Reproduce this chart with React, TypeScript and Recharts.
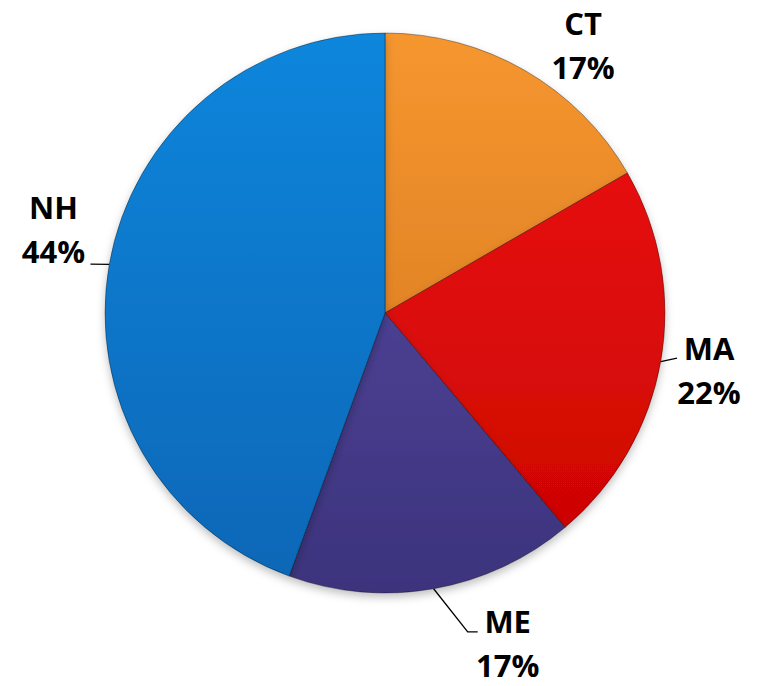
import { PieChart, Pie, Cell } from "recharts";

// ─── Data ─────────────────────────────────────────────────────────────────────

const states = ["CT", "MA", "ME", "NH"];
const counts = [6, 8, 6, 16];

const data = states.map((name, i) => ({ name, value: counts[i] }));

// ─── Styling ──────────────────────────────────────────────────────────────────

const GRADIENTS = [
  { id: "gCT", top: "#F5962F", bottom: "#D2731E" },
  { id: "gMA", top: "#F0140E", bottom: "#C90303" },
  { id: "gME", top: "#5A4CA8", bottom: "#3C337C" },
  { id: "gNH", top: "#0C86DC", bottom: "#0766B6" },
];

// label placement per slice: angle shift (deg), distance past the rim, leader points
const LABEL_LAYOUT = [
  { shift: -6.5, extra: 53, leader: null as number[][] | null },
  { shift: 0, extra: 49, leader: [[-32, -12]] },
  { shift: 10.4, extra: 72, leader: [[-40, -11], [-30, -11]] },
  { shift: -4.2, extra: 62, leader: [[37, 35]] },
];

const RAD = Math.PI / 180;
const FONT = "'Open Sans', Lato, sans-serif";

function polar(cx: number, cy: number, r: number, angle: number) {
  return { x: cx + r * Math.cos(-angle * RAD), y: cy + r * Math.sin(-angle * RAD) };
}

function StateLabel(props: any) {
  const { cx, cy, midAngle, outerRadius, index, name, percent } = props;
  const lay = LABEL_LAYOUT[index];
  const c = polar(cx, cy, outerRadius + lay.extra, midAngle + lay.shift);
  const edge = polar(cx, cy, outerRadius, midAngle);
  const pts = lay.leader
    ? [[edge.x, edge.y], ...lay.leader.map(([dx, dy]) => [c.x + dx, c.y + dy])]
    : null;
  const textProps = {
    x: c.x,
    textAnchor: "middle" as const,
    dominantBaseline: "central" as const,
    fontFamily: FONT,
    fontWeight: 700,
    fontSize: 31,
    fill: "#000",
  };
  return (
    <g>
      {pts && (
        <polyline
          points={pts.map((p) => p.join(",")).join(" ")}
          fill="none"
          stroke="#000"
          strokeWidth={1.3}
        />
      )}
      <text {...textProps} y={c.y - 22}>
        {name}
      </text>
      <text {...textProps} y={c.y + 22}>
        {`${Math.round(percent * 100)}%`}
      </text>
    </g>
  );
}

export default function App() {
  return (
    <div style={{ width: 757, height: 686, margin: -8, background: "#fff" }}>
      <PieChart width={757} height={686} margin={{ top: 0, right: 0, bottom: 0, left: 0 }}>
        <defs>
          {GRADIENTS.map((g) => (
            <linearGradient
              key={g.id}
              id={g.id}
              x1="0"
              y1="33"
              x2="0"
              y2="593"
              gradientUnits="userSpaceOnUse"
            >
              <stop offset="0%" stopColor={g.top} />
              <stop offset="100%" stopColor={g.bottom} />
            </linearGradient>
          ))}
          <filter id="pieShadow" x="-10%" y="-10%" width="120%" height="125%">
            <feDropShadow dx="0" dy="4" stdDeviation="4" floodColor="#000" floodOpacity="0.25" />
          </filter>
        </defs>
        <Pie
          data={data}
          dataKey="value"
          nameKey="name"
          cx={385}
          cy={313}
          outerRadius={280}
          startAngle={90}
          endAngle={-270}
          stroke="rgba(0,0,0,0.35)"
          strokeWidth={1}
          label={StateLabel}
          labelLine={false}
          isAnimationActive={false}
          style={{ filter: "url(#pieShadow)" }}
        >
          {data.map((d, i) => (
            <Cell key={d.name} fill={`url(#${GRADIENTS[i].id})`} />
          ))}
        </Pie>
      </PieChart>
    </div>
  );
}
